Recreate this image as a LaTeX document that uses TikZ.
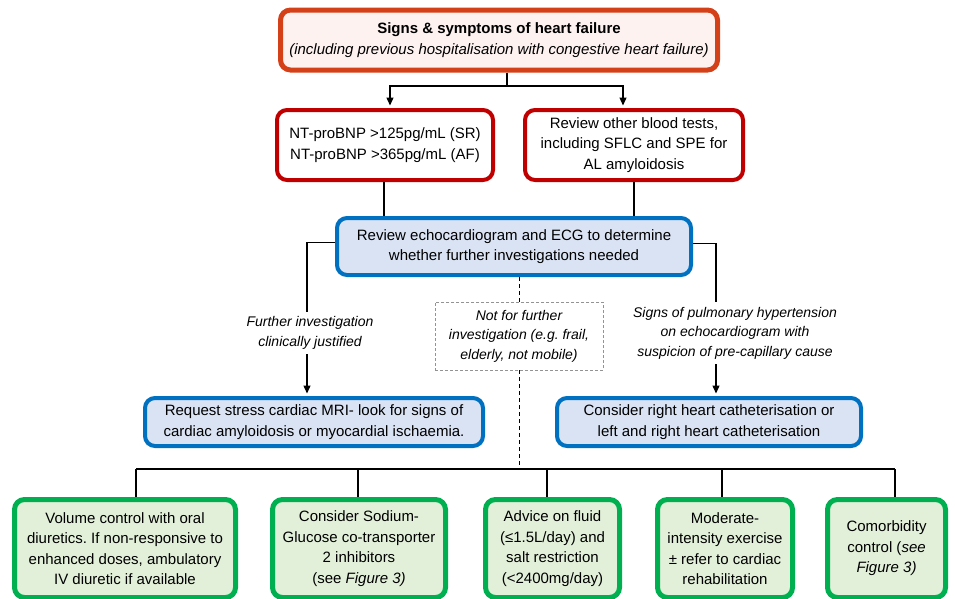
\documentclass[tikz,border=0pt]{standalone}
\usepackage{fontspec}
\setmainfont{Liberation Sans}
\usetikzlibrary{arrows.meta}
\definecolor{hfred}{RGB}{212,64,24}
\definecolor{hfpink}{RGB}{253,242,240}
\definecolor{hfdarkred}{RGB}{192,0,0}
\definecolor{hfblue}{RGB}{0,112,192}
\definecolor{hfbluefill}{RGB}{218,227,243}
\definecolor{hfgreen}{RGB}{0,176,80}
\definecolor{hfgreenfill}{RGB}{226,240,217}
\frenchspacing
\begin{document}
\begin{tikzpicture}[x=1pt, y=-1pt, every node/.style={font=\fontsize{15}{20.5}\selectfont},
  box/.style={draw, rounded corners=10pt, align=center, inner sep=0pt},
  redbox/.style={box, draw=hfdarkred, line width=4pt, fill=white},
  bluebox/.style={box, draw=hfblue, line width=4pt, fill=hfbluefill},
  greenbox/.style={box, draw=hfgreen, line width=5pt, fill=hfgreenfill, minimum height=98pt},
  note/.style={align=center, inner sep=5pt, font=\fontsize{14}{19.5}\selectfont\itshape},
  link/.style={line width=1.3pt},
  arr/.style={link, shorten >=2.5pt, -{Triangle[length=8pt, width=7pt]}},
  dashlink/.style={line width=1pt, dash pattern=on 4pt off 3pt}]
\useasboundingbox (0,0) rectangle (955,598);
\node[box, draw=hfred, line width=5pt, fill=hfpink, minimum width=437pt, minimum height=60pt] (signs) at (499,40)
  {\textbf{Signs \& symptoms of heart failure}\\[1pt]\textit{(including previous hospitalisation with congestive heart failure)}};
\node[redbox, minimum width=216pt, minimum height=70pt] (bnp) at (385,145) {NT-proBNP >125pg/mL (SR)\\NT-proBNP >365pg/mL (AF)};
\node[redbox, minimum width=218pt, minimum height=70pt] (bloods) at (634,145) {Review other blood tests,\\including SFLC and SPE for\\AL amyloidosis};
\node[bluebox, minimum width=354pt, minimum height=57pt] (echo) at (514,246.5) {Review echocardiogram and ECG to determine\\whether further investigations needed};
\node[note, draw=gray!85, dash pattern=on 3pt off 2pt, line width=0.9pt, inner sep=0pt, minimum width=168pt, minimum height=68pt] (notfit) at (519,336)
  {Not for further\\investigation (e.g. frail,\\elderly, not mobile)};
\node[note] (justified) at (310,333) {Further investigation\\clinically justified};
\node[note] (pulmhtn) at (735,333) {Signs of pulmonary hypertension\\on echocardiogram with\\suspicion of pre-capillary cause};
\node[bluebox, minimum width=338pt, minimum height=48pt] (mri) at (314,422) {Request stress cardiac MRI- look for signs of\\cardiac amyloidosis or myocardial ischaemia.};
\node[bluebox, minimum width=304pt, minimum height=48pt] (cath) at (709,422) {Consider right heart catheterisation or\\left and right heart catheterisation};
\node[greenbox, minimum width=221pt] (diuretic) at (125,548.5) {Volume control with oral\\diuretics. If non-responsive to\\enhanced doses, ambulatory\\IV diuretic if available};
\node[greenbox, minimum width=173pt] (sglt) at (359,548.5) {Consider Sodium-\\Glucose co-transporter\\2 inhibitors\\(see \textit{Figure 3)}};
\node[greenbox, minimum width=134pt] (fluid) at (552.5,548.5) {Advice on fluid\\(≤1.5L/day) and\\salt restriction\\(<2400mg/day)};
\node[greenbox, minimum width=135pt] (exercise) at (725,548.5) {Moderate-\\intensity exercise\\± refer to cardiac\\rehabilitation};
\node[greenbox, minimum width=118pt] (comorb) at (886.5,548.5) {Comorbidity\\control (\textit{see}\\\textit{Figure 3)}};
\coordinate (split) at (507,86);
\coordinate (fline) at (307,0);
\coordinate (pline) at (716,0);
\coordinate (bus) at (0,469);
\draw[link] (split |- signs.south) -- (split);
\draw[arr] (split) -| ([xshift=5pt]bnp.north);
\draw[arr] (split) -| ([xshift=-11pt]bloods.north);
\draw[link] ([xshift=-1pt]bnp.south) -- ([xshift=-1pt]bnp.south |- echo.north);
\draw[link] (bloods.south) -- (bloods.south |- echo.north);
\draw[link] ([yshift=4pt]echo.west) -| (fline |- justified.north);
\draw[arr] (fline |- justified.south) -- (fline |- mri.north);
\draw[link] ([yshift=3pt]echo.east) -| (pline |- pulmhtn.north);
\draw[arr] (pline |- pulmhtn.south) -- (pline |- cath.north);
\draw[dashlink] (notfit.north |- echo.south) -- (notfit.north);
\draw[dashlink] (notfit.south) -- (notfit.south |- bus);
\draw[link] ([xshift=11pt]diuretic.north |- bus) -- ([xshift=8.5pt]comorb.north |- bus);
\foreach \n/\dx in {diuretic/11, sglt/-1, fluid/-5.5, exercise/-3, comorb/8.5}
  \draw[link] ([xshift=\dx pt]\n.north |- bus) -- ([xshift=\dx pt]\n.north);
\end{tikzpicture}
\end{document}
